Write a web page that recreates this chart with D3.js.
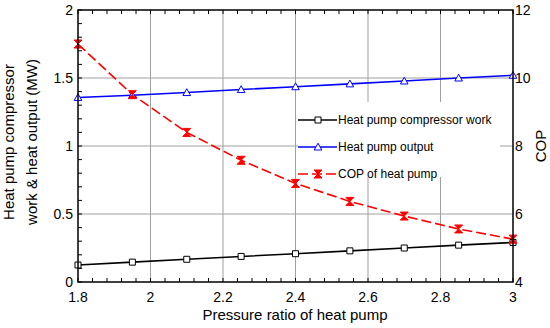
<!DOCTYPE html>
<html><head><meta charset="utf-8">
<script src="https://cdn.jsdelivr.net/npm/d3@7"></script>
<style>body{margin:0;background:#fff}svg{display:block;font-family:"Liberation Sans",Arial,sans-serif}</style>
</head><body><svg id="c" width="550" height="328"></svg>
<script>
const pressureRatio = [1.8, 1.95, 2.1, 2.25, 2.4, 2.55, 2.7, 2.85, 3.0];
const compressorWork = [0.125, 0.146, 0.167, 0.188, 0.208, 0.229, 0.25, 0.271, 0.291];
const heatOutput = [1.357, 1.373, 1.393, 1.415, 1.436, 1.457, 1.478, 1.5, 1.52];
const cop = [11.0, 9.51, 8.40, 7.58, 6.90, 6.37, 5.94, 5.56, 5.26];
const xTicks = [1.8, 2, 2.2, 2.4, 2.6, 2.8, 3];
const yLeftTicks = [0, 0.5, 1, 1.5, 2];
const yRightTicks = [4, 6, 8, 10, 12];
const seriesNames = ["Heat pump compressor work", "Heat pump output", "COP of heat pump"];

const svg = d3.select("#c");
const L = 78, R = 513, T = 10, B = 282;
const x = d3.scaleLinear().domain([1.8, 3]).range([L, R]);
const yL = d3.scaleLinear().domain([0, 2]).range([B, T]);
const yR = d3.scaleLinear().domain([4, 12]).range([B, T]);

// grid
const g = svg.append("g").attr("stroke", "#a0a0a0").attr("stroke-width", 1);
xTicks.slice(1, -1).forEach(v => g.append("line").attr("x1", x(v)).attr("x2", x(v)).attr("y1", T).attr("y2", B));
yLeftTicks.slice(1, -1).forEach(v => g.append("line").attr("x1", L).attr("x2", R).attr("y1", yL(v)).attr("y2", yL(v)));

// minor ticks
const tk = svg.append("g").attr("stroke", "#000").attr("stroke-width", 1);
d3.range(1.8, 3.0001, 0.04).forEach(v => {
  tk.append("line").attr("x1", x(v)).attr("x2", x(v)).attr("y1", B).attr("y2", B - 4);
  tk.append("line").attr("x1", x(v)).attr("x2", x(v)).attr("y1", T).attr("y2", T + 4);
});
d3.range(0, 2.0001, 0.1).forEach(v => {
  tk.append("line").attr("x1", L).attr("x2", L + 4).attr("y1", yL(v)).attr("y2", yL(v));
});

// legend background
const lg = svg.append("g");
lg.append("rect").attr("x", 298).attr("y", 102).attr("width", 202).attr("height", 75).attr("fill", "#fff");

// lines
const line = (ys, yScale) => d3.line().x((d, i) => x(pressureRatio[i])).y(d => yScale(d))(ys);
svg.append("path").attr("d", line(compressorWork, yL)).attr("fill", "none").attr("stroke", "#000").attr("stroke-width", 1.6);
svg.append("path").attr("d", line(heatOutput, yL)).attr("fill", "none").attr("stroke", "#0000ff").attr("stroke-width", 1.6);
svg.append("path").attr("d", line(cop, yR)).attr("fill", "none").attr("stroke", "#ff0000").attr("stroke-width", 1.6).attr("stroke-dasharray", "10,4");

const sq = "M-3,-3H3V3H-3Z";
const tri = "M0,-3.8L3.8,3L-3.8,3Z";
const bow = "M-4,-4H4L0,0ZM-4,4H4L0,0Z";
function markers(ys, yScale, d, stroke, fill) {
  svg.append("g").selectAll("path").data(ys).join("path")
    .attr("transform", (v, i) => `translate(${x(pressureRatio[i])},${yScale(v)})`)
    .attr("d", d).attr("fill", fill).attr("stroke", stroke).attr("stroke-width", 1);
}
markers(compressorWork, yL, sq, "#000", "#fff");
markers(heatOutput, yL, tri, "#0000ff", "#fff");
markers(cop, yR, bow, "#ff0000", "#ff0000");

// frame
svg.append("rect").attr("x", L).attr("y", T).attr("width", R - L).attr("height", B - T)
  .attr("fill", "none").attr("stroke", "#000").attr("stroke-width", 1.5);

// tick labels
const fs = 14;
xTicks.forEach(v => svg.append("text").attr("x", x(v)).attr("y", 302).attr("text-anchor", "middle").attr("font-size", fs).text(d3.format("")(v)));
yLeftTicks.forEach(v => svg.append("text").attr("x", 73).attr("y", yL(v) + 5).attr("text-anchor", "end").attr("font-size", fs).text(v));
yRightTicks.forEach(v => svg.append("text").attr("x", 515).attr("y", yR(v) + 5).attr("text-anchor", "start").attr("font-size", fs).text(v));

// axis titles
svg.append("text").attr("x", 295).attr("y", 320).attr("text-anchor", "middle").attr("font-size", 15).text("Pressure ratio of heat pump");
svg.append("text").attr("transform", "translate(14,142) rotate(-90)").attr("text-anchor", "middle").attr("font-size", 15).text("Heat pump compressor");
svg.append("text").attr("transform", "translate(37,142) rotate(-90)").attr("text-anchor", "middle").attr("font-size", 15).text("work & heat output (MW)");
svg.append("text").attr("transform", "translate(546,146) rotate(-90)").attr("text-anchor", "middle").attr("font-size", 15).text("COP");

// legend
const rows = [
  {y: 120, c: "#000", d: sq, fill: "#fff", dash: null},
  {y: 147, c: "#0000ff", d: tri, fill: "#fff", dash: null},
  {y: 174, c: "#ff0000", d: bow, fill: "#ff0000", dash: "10,4"}
];
rows.forEach((r, i) => {
  lg.append("line").attr("x1", 298).attr("x2", 337).attr("y1", r.y).attr("y2", r.y).attr("stroke", r.c).attr("stroke-width", 1.6).attr("stroke-dasharray", r.dash);
  lg.append("path").attr("transform", `translate(318,${r.y})`).attr("d", r.d).attr("fill", r.fill).attr("stroke", r.c).attr("stroke-width", 1);
  lg.append("text").attr("x", 338).attr("y", r.y + 4).attr("font-size", 12).text(seriesNames[i]);
});
</script></body></html>
